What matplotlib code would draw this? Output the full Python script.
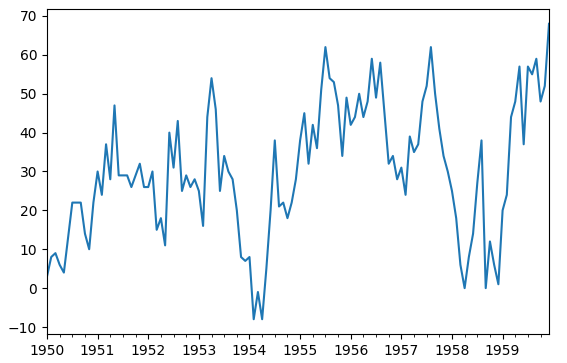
import numpy as np
import matplotlib.pyplot as plt
from matplotlib.ticker import MultipleLocator

# monthly values, Jan 1950 .. Dec 1959
values = [
    3, 8, 9, 6, 4, 13, 22, 22, 22, 14, 10, 22,          # 1950
    30, 24, 37, 28, 47, 29, 29, 29, 26, 29, 32, 26,     # 1951
    26, 30, 15, 18, 11, 40, 31, 43, 25, 29, 26, 28,     # 1952
    25, 16, 44, 54, 46, 25, 34, 30, 28, 20, 8, 7,       # 1953
    8, -8, -1, -8, 5, 20, 38, 21, 22, 18, 22, 28,       # 1954
    38, 45, 32, 42, 36, 51, 62, 54, 53, 47, 34, 49,     # 1955
    42, 44, 50, 44, 48, 59, 49, 58, 45, 32, 34, 28,     # 1956
    31, 24, 39, 35, 37, 48, 52, 62, 50, 41, 34, 30,     # 1957
    25, 18, 6, 0, 8, 14, 27, 38, 0, 12, 6, 1,           # 1958
    20, 24, 44, 48, 57, 37, 57, 55, 59, 48, 52, 68,     # 1959
]
start_year = 1950
years = list(range(1950, 1960))

t = start_year + np.arange(len(values)) / 12.0

fig = plt.figure(figsize=(5.67, 3.63), dpi=100)
ax = fig.add_axes([47 / 567, 29 / 363, 502 / 567, 325 / 363])

ax.plot(t, values, color='tab:blue', lw=1.5)

ax.set_xlim(t[0], t[-1])
ax.set_ylim(-11.8, 71.8)
ax.set_xticks(years)
ax.set_xticklabels([str(y) for y in years])
ax.xaxis.set_minor_locator(MultipleLocator(0.25))
ax.set_yticks(range(-10, 71, 10))

fig.savefig('out.png', dpi=100)
